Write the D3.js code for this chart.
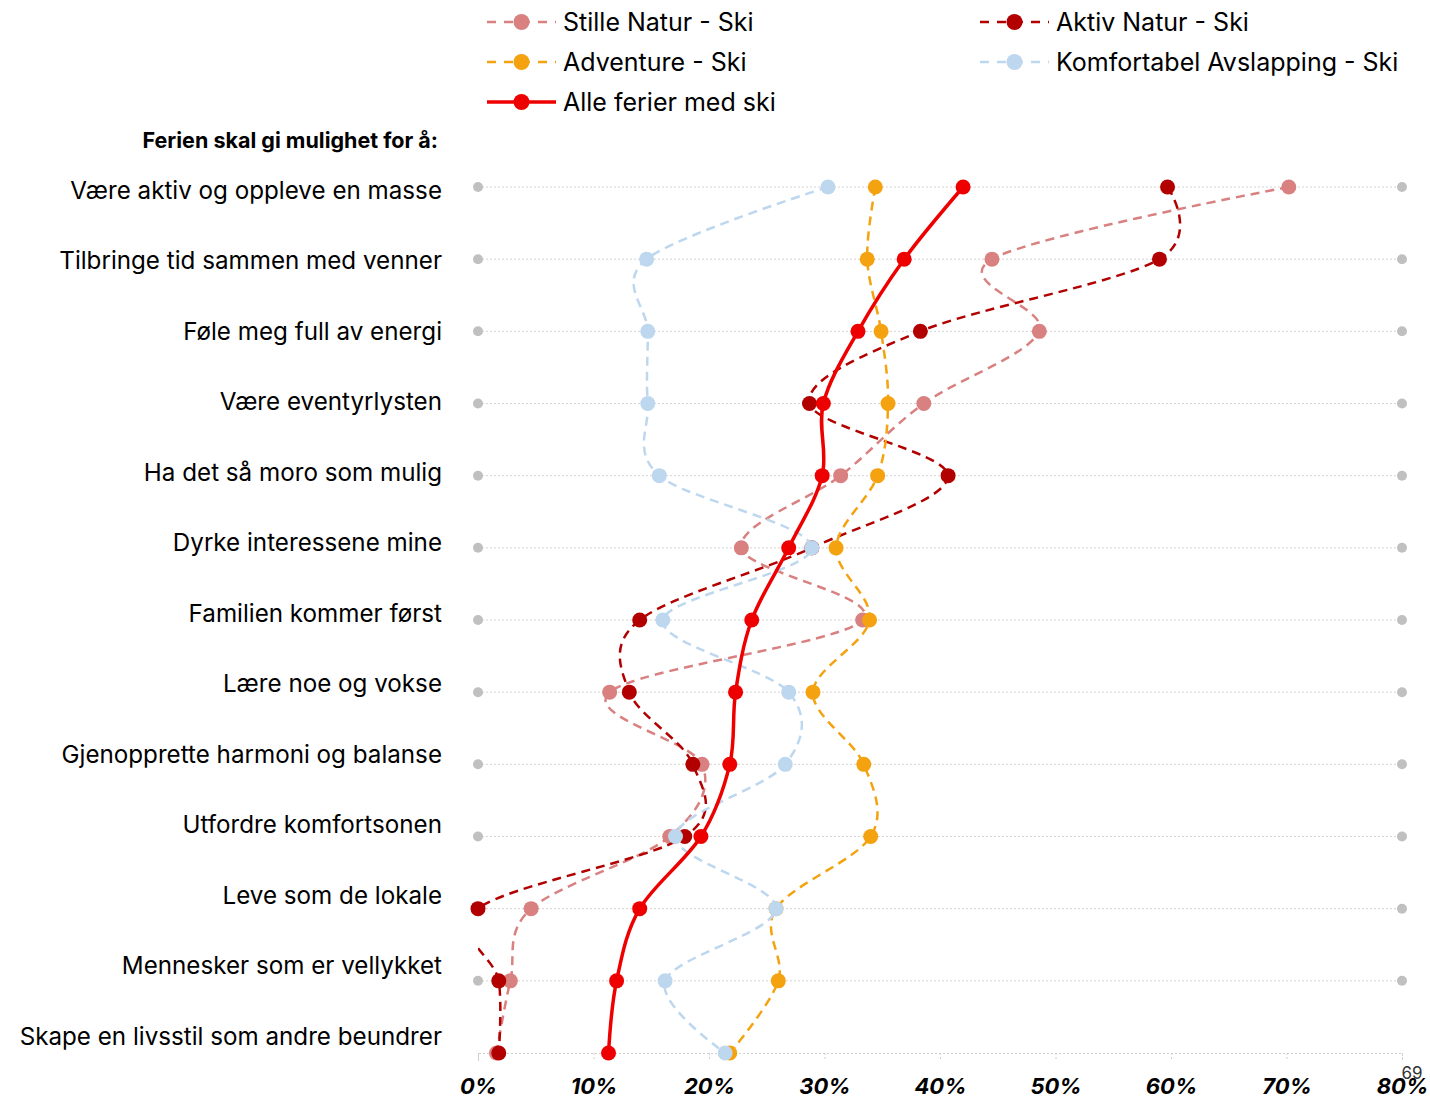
<!DOCTYPE html>
<html><head><meta charset="utf-8">
<script src="https://cdn.jsdelivr.net/npm/d3@7"></script>
<style>
html,body{margin:0;padding:0;background:#fff;}
svg{display:block;font-family:Inter,"Noto Sans",sans-serif;}
</style></head>
<body>
<svg id="chart" width="1430" height="1098"></svg>
<script>
const categories = [
  "Være aktiv og oppleve en masse",
  "Tilbringe tid sammen med venner",
  "Føle meg full av energi",
  "Være eventyrlysten",
  "Ha det så moro som mulig",
  "Dyrke interessene mine",
  "Familien kommer først",
  "Lære noe og vokse",
  "Gjenopprette harmoni og balanse",
  "Utfordre komfortsonen",
  "Leve som de lokale",
  "Mennesker som er vellykket",
  "Skape en livsstil som andre beundrer"
];
const stilleNatur   = [70.2, 44.5, 48.6, 38.6, 31.4, 22.8, 33.3, 11.4, 19.4, 16.6, 4.6, 2.8, 1.6];
const aktivNatur    = [59.7, 59.0, 38.3, 28.7, 40.7, 28.9, 14.0, 13.1, 18.6, 17.9, 0.0, 1.8, 1.8];
const adventure     = [34.4, 33.7, 34.9, 35.5, 34.6, 31.0, 33.9, 29.0, 33.4, 34.0, 25.8, 26.0, 21.8];
const komfortabel   = [30.3, 14.6, 14.7, 14.7, 15.7, 28.9, 16.0, 26.9, 26.6, 17.1, 25.8, 16.2, 21.4];
const alleFerier    = [42.0, 36.9, 32.9, 29.9, 29.8, 26.9, 23.7, 22.3, 21.8, 19.3, 14.0, 12.0, 11.3];
const seriesNames   = ["Stille Natur - Ski", "Aktiv Natur - Ski", "Adventure - Ski", "Komfortabel Avslapping - Ski", "Alle ferier med ski"];
const xTicks        = [0, 10, 20, 30, 40, 50, 60, 70, 80];
const guideEnds     = [0, 80];
const headerText    = "Ferien skal gi mulighet for å:";
const pageNumber    = "69";

const seriesValues = [stilleNatur, aktivNatur, adventure, komfortabel, alleFerier];
const styles = [
  {color:"#d98080", dash:"9,6", width:2.5, r:7.5},
  {color:"#b20000", dash:"9,6", width:2.5, r:7.5},
  {color:"#f4a20f", dash:"9,6", width:2.5, r:7.5},
  {color:"#bdd7ee", dash:"9,6", width:2.5, r:7.5},
  {color:"#ee0000", dash:null, width:3.5, r:7.5}
];

const svg = d3.select("#chart");
const x = d3.scaleLinear().domain([0, 80]).range([478, 1402]);
const y = d3.scalePoint().domain(categories).range([187, 1053]);
const yLabel = d3.scalePoint().domain(categories).range([190, 1036]);

svg.append("defs").append("clipPath").attr("id","plotclip")
  .append("rect").attr("x", x(0)).attr("y", 150).attr("width", x(80)-x(0)).attr("height", 930);

// gridlines
const gridCats = categories.slice(0, categories.length - 1);
svg.append("g").selectAll("line").data(gridCats).join("line")
  .attr("x1", x(0)).attr("x2", x(80))
  .attr("y1", d => y(d)).attr("y2", d => y(d))
  .attr("stroke", "#d4d4d4").attr("stroke-width", 1).attr("stroke-dasharray", "2,2");

// axis
const axis = svg.append("g").attr("transform", `translate(0,${y(categories[categories.length-1])})`)
  .call(d3.axisBottom(x).tickValues(xTicks).tickFormat(d => d + "%").tickSize(8));
axis.select(".domain").attr("stroke", "#d0d0d0").attr("stroke-dasharray", "2,2");
axis.selectAll(".tick line").attr("stroke", "#d0d0d0").attr("stroke-dasharray", "2,2");
axis.selectAll(".tick text").attr("y", 41).attr("dy", null)
  .attr("font-size", 22).attr("font-weight", 700).attr("font-style", "italic")
  .attr("fill", "#000").attr("font-family", "Inter, sans-serif");

// guide end dots
const guidePts = [];
gridCats.forEach(c => guideEnds.forEach(v => guidePts.push({c, v})));
svg.append("g").selectAll("circle").data(guidePts).join("circle")
  .attr("cx", d => x(d.v)).attr("cy", d => y(d.c)).attr("r", 5).attr("fill", "#c0c0c0");

// category labels
svg.append("g").selectAll("text").data(categories).join("text")
  .attr("x", 442).attr("y", d => yLabel(d) + 8.5)
  .attr("text-anchor", "end").attr("font-size", 24.2).attr("fill", "#000")
  .text(d => d);

svg.append("text").attr("x", 438).attr("y", 148).attr("text-anchor", "end")
  .attr("font-size", 21.5).attr("font-weight", 700).attr("fill", "#000").text(headerText);

// series
const line = d3.line().x(d => x(d.v)).y(d => y(d.c)).curve(d3.curveCardinal.tension(0));
seriesValues.forEach((vals, i) => {
  const st = styles[i];
  const pts = vals.map((v, k) => ({v, c: categories[k]}));
  const g = svg.append("g");
  g.append("path").datum(pts).attr("d", line).attr("fill", "none")
    .attr("clip-path", "url(#plotclip)")
    .attr("stroke", st.color).attr("stroke-width", st.width)
    .attr("stroke-dasharray", st.dash);
  g.selectAll("circle").data(pts).join("circle")
    .attr("cx", d => x(d.v)).attr("cy", d => y(d.c)).attr("r", st.r).attr("fill", st.color);
});

// legend
const legendPos = [[487, 22], [980, 22], [487, 62], [980, 62], [487, 102]];
seriesNames.forEach((name, i) => {
  const st = styles[i];
  const [lx, ly] = legendPos[i];
  const g = svg.append("g");
  g.append("line").attr("x1", lx).attr("x2", lx + 69).attr("y1", ly).attr("y2", ly)
    .attr("stroke", st.color).attr("stroke-width", st.dash ? 2.5 : 3.5)
    .attr("stroke-dasharray", st.dash ? "9,8" : null);
  g.append("circle").attr("cx", lx + 34.5).attr("cy", ly).attr("r", 8).attr("fill", st.color);
  g.append("text").attr("x", lx + 76).attr("y", ly + 9).attr("font-size", 25).attr("fill", "#000").text(name);
});

svg.append("text").attr("x", 1412).attr("y", 1079).attr("text-anchor", "middle")
  .attr("font-size", 17).attr("fill", "#333").text(pageNumber);
</script>
</body></html>
